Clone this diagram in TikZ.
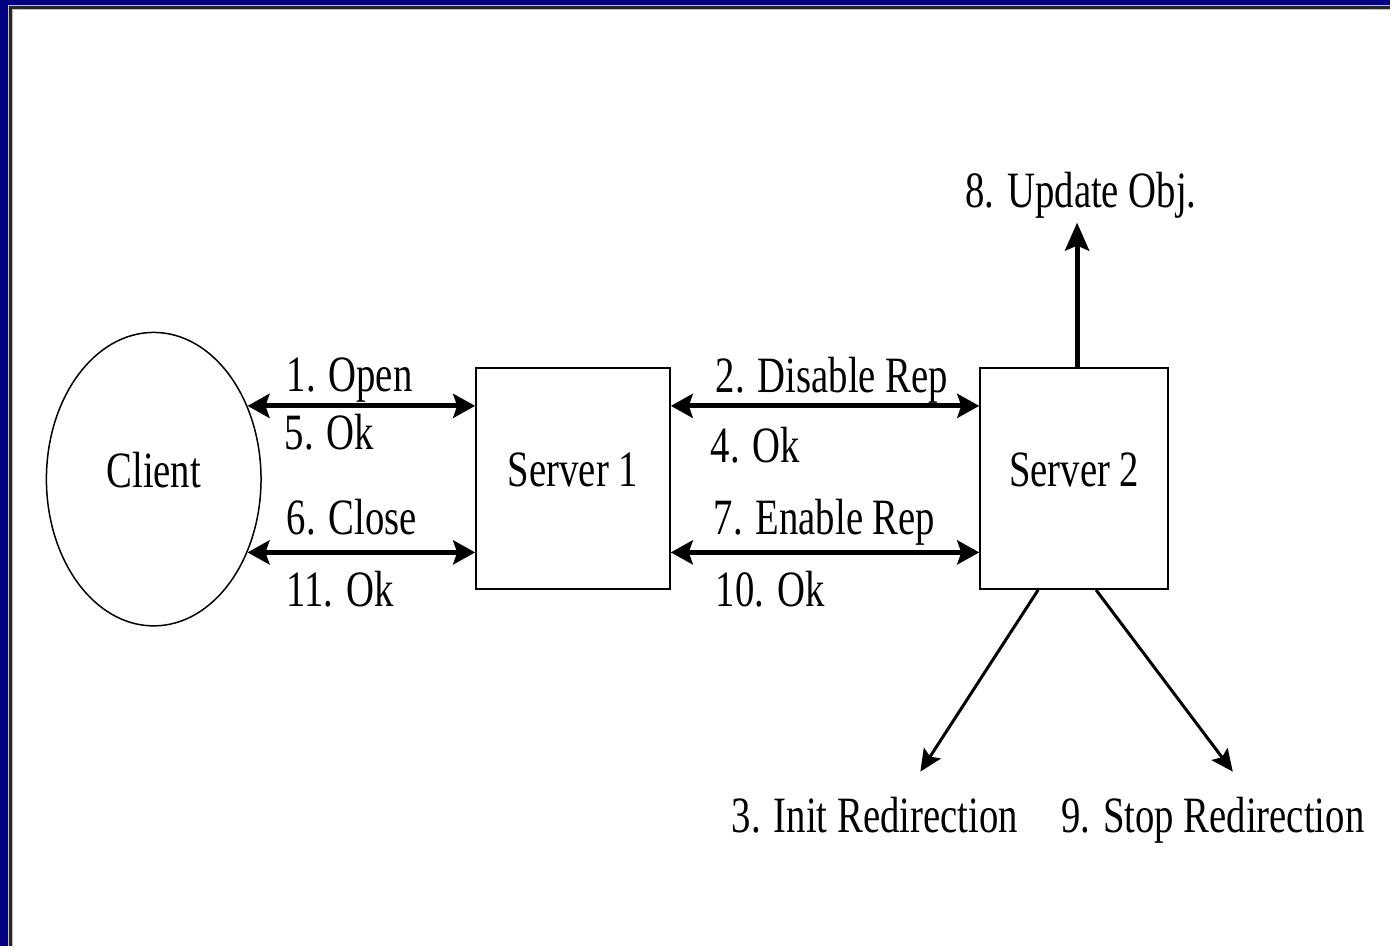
\documentclass[tikz,border=0pt]{standalone}
\usepackage{fontspec}
\newfontfamily\diagfont[FakeStretch=0.76]{Liberation Serif}
\usetikzlibrary{shapes.geometric, arrows.meta, positioning, calc}
\definecolor{frameblue}{RGB}{0,0,128}

\begin{document}
\begin{tikzpicture}[
  x=1pt, y=-1pt,
  every node/.style={font=\diagfont\fontsize{51}{60}\selectfont},
  srv/.style={rectangle, draw, line width=2pt, minimum height=221pt, text depth=19pt},
  cli/.style={ellipse, draw, line width=1.5pt, minimum width=215pt, minimum height=294pt, text depth=18pt},
  lbl/.style={anchor=base west, inner sep=0pt},
  dbl/.style={{Stealth[length=22pt, width=24pt, inset=4pt]}-{Stealth[length=22pt, width=24pt, inset=4pt]}, line width=5pt},
  upa/.style={-{Stealth[length=28pt, width=24pt, inset=5pt]}, line width=5pt},
  diag/.style={-{Stealth[length=22pt, width=20pt, inset=4pt]}, line width=3pt},
]

% Frame
\fill[frameblue] (0,0) rectangle (1392,948);
\fill[white] (8,5) rectangle (1392,948);
\draw[gray!50, line width=5pt] (11,948) |- (1392,8);
\draw[black!85, line width=3pt] (11,948) |- (1392,8);
\useasboundingbox (0,0) rectangle (1392,948);

% Client and servers
\node[cli] (client) at (154,480) {Client};
\node[srv, minimum width=194pt] (s1) at (574,479.5) {Server 1};
\node[srv, minimum width=188pt] (s2) at (1076,479.5) {Server 2};

% Free ends
\coordinate (initend) at (922,773);
\coordinate (stopend) at (1235,773);
\coordinate (updend) at (1079,223);

% Client <-> Server 1
\draw[dbl] (client.38) -- (client.38 -| s1.west);
\draw[dbl] (client.-38) -- (client.-38 -| s1.west);

% Server 1 <-> Server 2
\draw[dbl] (client.38 -| s1.east) -- (client.38 -| s2.west);
\draw[dbl] (client.-38 -| s1.east) -- (client.-38 -| s2.west);

% Server 2 outputs
\draw[upa] ([xshift=3pt]s2.north) -- (updend);
\draw[diag] ([xshift=-36pt]s2.south) -- (initend);
\draw[diag] ([xshift=22pt]s2.south) -- (stopend);

% Labels
\node[lbl] (lopen) at (287,392) {1. Open};
\node[lbl] (lok5) at (285,450) {5. Ok};
\node[lbl] (lclose) at (287,535) {6. Close};
\node[lbl] (lok11) at (287,608) {11. Ok};
\node[lbl] (ldis) at (717,393) {2. Disable Rep};
\node[lbl] (lok4) at (712,463) {4. Ok};
\node[lbl] (lena) at (715,535) {7. Enable Rep};
\node[lbl] (lok10) at (717,608) {10. Ok};
\node[lbl] (lupd) at (967,208) {8. Update Obj.};
\node[lbl] (linit) at (733,834) {3. Init Redirection};
\node[lbl] (lstop) at (1063,834) {9. Stop Redirection};

\end{tikzpicture}
\end{document}
